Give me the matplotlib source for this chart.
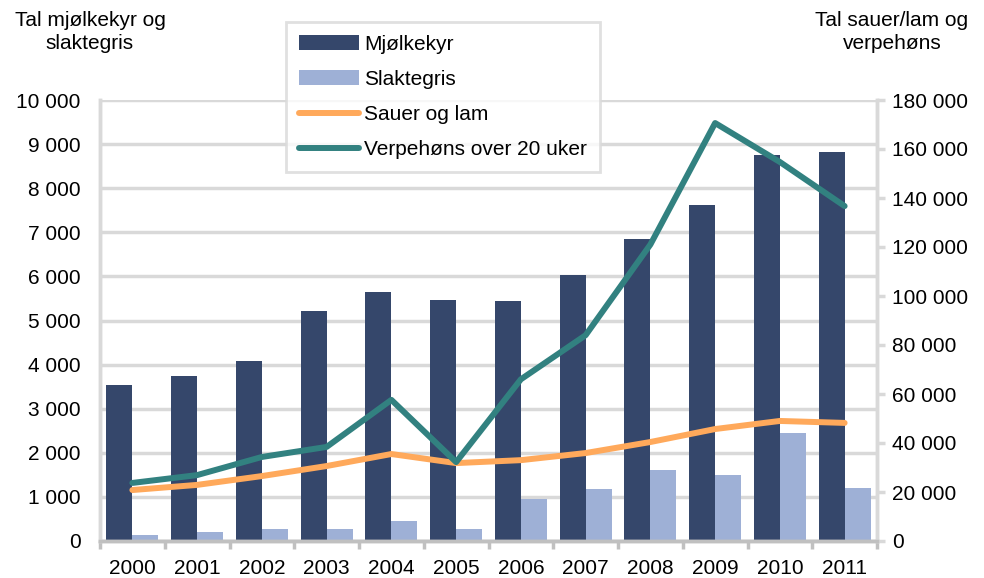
import matplotlib.pyplot as plt
import numpy as np

plt.rcParams['font.family'] = ['Liberation Sans', 'DejaVu Sans']

# Data
years = ["2000", "2001", "2002", "2003", "2004", "2005",
         "2006", "2007", "2008", "2009", "2010", "2011"]
mjolkekyr = [3530, 3740, 4080, 5220, 5650, 5460, 5440, 6030, 6850, 7620, 8760, 8820]
slaktegris = [140, 200, 270, 280, 460, 280, 950, 1180, 1610, 1500, 2450, 1200]
sauer_lam = [20800, 22900, 26500, 30600, 35500, 31800, 33000, 35900, 40400, 45700, 49000, 48200]
verpehons = [23700, 26900, 34300, 38400, 57600, 32200, 66000, 84000, 121000, 170600, 154700, 136700]

grid_c = "#d9d9d9"
spine_c = "#c0c0c0"
fs = 15

fig = plt.figure(figsize=(9.84, 5.78), dpi=100)
ax = fig.add_axes([100 / 984, 1 - 541 / 578, 777 / 984, 441 / 578])
ax2 = ax.twinx()

x = np.arange(len(years))
width = 0.4

ax.bar(x - width / 2, mjolkekyr, width, color="#35476b", label="Mjølkekyr", zorder=2)
ax.bar(x + width / 2, slaktegris, width, color="#9eb0d6", label="Slaktegris", zorder=2)

ax2.plot(x, sauer_lam, color="#ffa95b", lw=4.3, solid_capstyle="round",
         solid_joinstyle="round", label="Sauer og lam")
ax2.plot(x, verpehons, color="#328180", lw=4.3, solid_capstyle="round",
         solid_joinstyle="round", label="Verpehøns over 20 uker")

# Axes limits and ticks
ax.set_xlim(-0.5, len(years) - 0.5)
ax.set_ylim(0, 10000)
ax2.set_ylim(0, 180000)
ax.set_yticks(np.arange(0, 10001, 1000))
ax2.set_yticks(np.arange(0, 180001, 20000))


def fmt(v):
    return f"{int(v):,}".replace(",", " ")


ax.set_yticklabels([fmt(v) for v in ax.get_yticks()], fontsize=fs)
ax2.set_yticklabels([fmt(v) for v in ax2.get_yticks()], fontsize=fs)

ax.set_xticks(x)
ax.set_xticklabels(years, fontsize=fs)
ax.set_xticks(np.arange(-0.5, len(years)), minor=True)
ax.tick_params(axis="x", which="major", length=0, pad=13)
ax.tick_params(axis="x", which="minor", length=6, width=2.5, color=spine_c)
ax.tick_params(axis="y", length=0, pad=14)
ax2.tick_params(axis="y", length=6, width=2.5, color=grid_c, pad=5)

ax.yaxis.grid(True, color=grid_c, lw=2.5, zorder=0)
ax.set_axisbelow(True)

for a in (ax, ax2):
    a.spines["top"].set_visible(False)
    a.spines["left"].set_color(grid_c)
    a.spines["left"].set_linewidth(2.5)
    a.spines["right"].set_color(grid_c)
    a.spines["right"].set_linewidth(2.5)
    a.spines["bottom"].set_color(spine_c)
    a.spines["bottom"].set_linewidth(2.5)

# Axis titles
fig.text(90 / 984, 1 - 32 / 578, "Tal mjølkekyr og\nslaktegris", ha="center", va="center",
         fontsize=fs, linespacing=1.25)
fig.text(892 / 984, 1 - 32 / 578, "Tal sauer/lam og\nverpehøns", ha="center", va="center",
         fontsize=fs, linespacing=1.25)

# Legend
h1, l1 = ax.get_legend_handles_labels()
h2, l2 = ax2.get_legend_handles_labels()
leg = ax2.legend(h1 + h2, l1 + l2, loc="upper left",
                 bbox_to_anchor=((286 - 100) / 777, (541 - 22) / 441),
                 fontsize=fs, frameon=True, fancybox=False, borderpad=0.6,
                 handlelength=2.9, handletextpad=0.25, labelspacing=0.78,
                 borderaxespad=0)
leg.get_frame().set_edgecolor(grid_c)
leg.get_frame().set_linewidth(2)
leg.set_zorder(10)

plt.savefig("out.png", dpi=100)
plt.close()
